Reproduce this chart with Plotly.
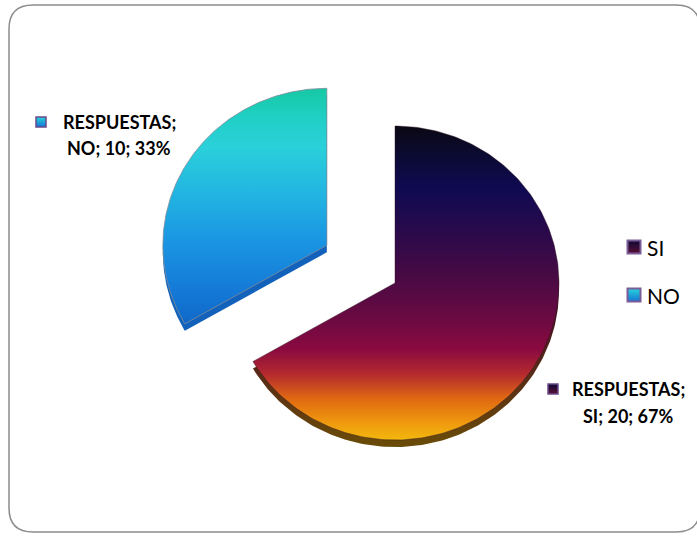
import numpy as np
import plotly.graph_objects as go

# Data
categorias = ["SI", "NO"]
respuestas = [20, 10]
serie = "RESPUESTAS"

# Pie layout on hidden pixel-scaled axes
W, H = 697, 536
CX, CY = 395, 283          # pie centre
RX, RY = 164, 157          # slight perspective tilt
DEPTH = 7                  # visible thickness of the 3-D edge
PULL = {"SI": 0.0, "NO": 0.48}

top_scales = {
    "SI": [[0.00, "#0a0812"], [0.08, "#0b0a2e"], [0.20, "#0f0a52"], [0.32, "#260a4c"],
           [0.48, "#480a44"], [0.61, "#6a0a42"], [0.71, "#8a0a40"], [0.79, "#b42a2e"],
           [0.87, "#e06a12"], [0.95, "#f09c0e"], [1.00, "#f2b80e"]],
    "NO": [[0.00, "#16c8a4"], [0.12, "#20cfc4"], [0.25, "#2ad0da"], [0.45, "#22b4e2"],
           [0.66, "#1a94e2"], [0.87, "#1478d6"], [1.00, "#1068c8"]],
}
side_scales = {
    "SI": [[0.0, "#300828"], [0.6, "#4a1420"], [1.0, "#6a4c08"]],
    "NO": [[0.0, "#1262bc"], [1.0, "#1262bc"]],
}
outline = {"SI": "rgba(50,20,40,0.55)", "NO": "#7f8c99"}
swatch = {"SI": ("#0e0a34", "#5a0e34"), "NO": ("#28d4dc", "#1474d4")}

fig = go.Figure()
total = sum(respuestas)

wedges = []
angle = 90.0
for cat, val in zip(categorias, respuestas):
    sweep = 360.0 * val / total
    a0, a1 = angle, angle - sweep
    mid = np.radians((a0 + a1) / 2)
    p = PULL[cat]
    cx = CX + p * RX * np.cos(mid)
    cy = CY - p * RY * np.sin(mid)
    th = np.radians(np.linspace(a0, a1, 240))
    xs = np.concatenate([[cx], cx + RX * np.cos(th), [cx]])
    ys = np.concatenate([[cy], cy - RY * np.sin(th), [cy]])
    wedges.append((cat, val, xs, ys))
    angle = a1

# extruded edges first, then the top faces
for cat, val, xs, ys in wedges:
    ys2 = ys + DEPTH
    fig.add_trace(go.Scatter(
        x=xs, y=ys2, mode="lines", fill="toself",
        line=dict(width=0, color="rgba(0,0,0,0)"),
        fillgradient=dict(type="vertical", colorscale=side_scales[cat],
                          start=float(ys2.min()), stop=float(ys2.max())),
        hoverinfo="skip", showlegend=False))

for cat, val, xs, ys in wedges:
    fig.add_trace(go.Scatter(
        x=xs, y=ys, mode="lines", fill="toself",
        line=dict(width=0.8, color=outline[cat]),
        fillgradient=dict(type="vertical", colorscale=top_scales[cat],
                          start=float(ys.min()), stop=float(ys.max())),
        name=cat, hoverinfo="skip", showlegend=False))

# legend (swatch + name)
legend_x, legend_y0, legend_step = 634, 247, 48
for i, cat in enumerate(categorias):
    c1, c2 = swatch[cat]
    ly = legend_y0 + i * legend_step
    fig.add_trace(go.Scatter(
        x=[legend_x], y=[ly], mode="markers", name=cat, hoverinfo="skip", showlegend=False,
        marker=dict(symbol="square", size=13, color=c1,
                    gradient=dict(type="vertical", color=c2),
                    line=dict(color="#7a5c98", width=2))))
    fig.add_annotation(x=legend_x + 11, y=ly, text=cat, showarrow=False,
                       xanchor="left", yanchor="middle",
                       font=dict(family="Lato", size=21, color="#000"))

# data labels
label_pos = {"SI": (628, 389, 416, 553), "NO": (119, 122, 148, 41)}
for cat, val in zip(categorias, respuestas):
    tx, y1, y2, mx = label_pos[cat]
    pct = round(100 * val / total)
    fig.add_annotation(x=tx, y=y1, text=f"<b>{serie};</b>", showarrow=False,
                       xanchor="center", yanchor="middle",
                       font=dict(family="Lato", size=18, color="#000"))
    fig.add_annotation(x=tx, y=y2, text=f"<b>{cat}; {val}; {pct}%</b>", showarrow=False,
                       xanchor="center", yanchor="middle",
                       font=dict(family="Lato", size=18, color="#000"))
    c1, c2 = swatch[cat]
    fig.add_trace(go.Scatter(
        x=[mx], y=[y1], mode="markers", hoverinfo="skip", showlegend=False,
        marker=dict(symbol="square", size=10, color=c1,
                    gradient=dict(type="vertical", color=c2),
                    line=dict(color="#6a4a8a", width=1.5))))

# rounded chart border
fig.add_shape(type="path", xref="x", yref="y",
              path="M 33,5 L 676,5 Q 700,5 700,29 L 700,508 Q 700,532 676,532 "
                   "L 33,532 Q 9,532 9,508 L 9,29 Q 9,5 33,5 Z",
              line=dict(color="#8c8c8c", width=1.5), fillcolor="rgba(0,0,0,0)")

fig.update_layout(
    width=W, height=H, margin=dict(l=0, r=0, t=0, b=0),
    paper_bgcolor="white", plot_bgcolor="white",
    xaxis=dict(range=[0, W], visible=False, fixedrange=True),
    yaxis=dict(range=[H, 0], visible=False, fixedrange=True),
    showlegend=False,
    font=dict(family="Lato"),
)

fig.write_html("out.html")
